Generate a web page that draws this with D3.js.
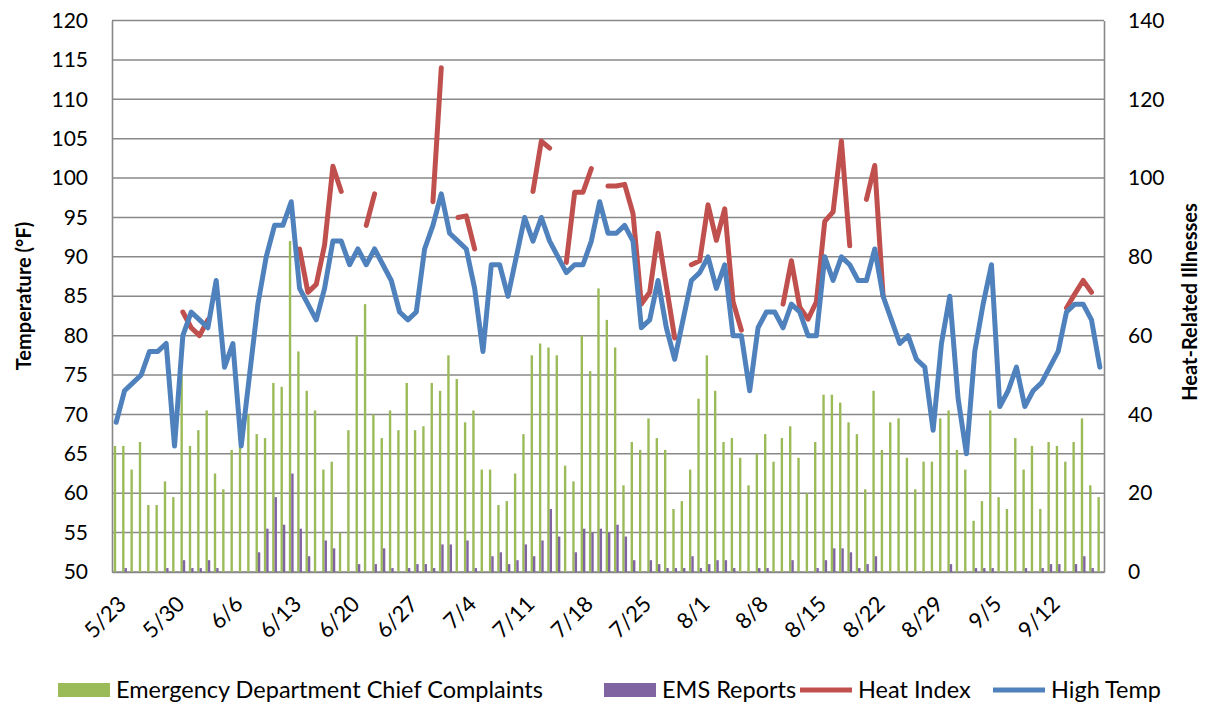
<!DOCTYPE html>
<html>
<head>
<meta charset="utf-8">
<script src="https://cdn.jsdelivr.net/npm/d3@7"></script>
<style>
  body { margin: 0; background: #fff; }
  text { font-family: Lato, "Liberation Sans", Arial, sans-serif; fill: #000; }
</style>
</head>
<body>
<div id="chart"></div>
<script>
// daily data, 5/23 .. 9/18 (119 days)
var startDay = new Date(2011, 4, 23);
var dayCount = 119;

var tickLabels = ["5/23", "5/30", "6/6", "6/13", "6/20", "6/27", "7/4", "7/11", "7/18",
  "7/25", "8/1", "8/8", "8/15", "8/22", "8/29", "9/5", "9/12"];

// Emergency Department Chief Complaints (right axis)
var edComplaints = [32, 32, 26, 33, 17, 17, 23, 19, 50, 32, 36, 41, 25, 21, 31, 32, 40, 35, 34, 48,
  47, 84, 56, 46, 41, 26, 28, 10, 36, 60, 68, 40, 34, 41, 36, 48, 36, 37, 48, 46,
  55, 49, 38, 41, 26, 26, 17, 18, 25, 35, 55, 58, 57, 55, 27, 23, 60, 51, 72, 64,
  57, 22, 33, 31, 39, 34, 31, 16, 18, 26, 44, 55, 46, 33, 34, 29, 22, 30, 35, 28,
  34, 37, 29, 20, 33, 45, 45, 43, 38, 35, 21, 46, 31, 38, 39, 29, 21, 28, 28, 39,
  41, 31, 26, 13, 18, 41, 19, 16, 34, 26, 32, 16, 33, 32, 28, 33, 39, 22, 19];

// EMS Reports (right axis)
var emsReports = [0, 1, 0, 0, 0, 0, 1, 0, 3, 1, 1, 3, 1, 0, 0, 0, 0, 5, 11, 19,
  12, 25, 11, 4, 0, 8, 6, 0, 0, 2, 0, 2, 6, 1, 0, 1, 2, 2, 1, 7,
  7, 0, 8, 1, 0, 4, 5, 2, 3, 7, 4, 8, 16, 9, 0, 5, 11, 10, 11, 10,
  12, 9, 3, 0, 3, 2, 1, 1, 1, 4, 1, 2, 3, 3, 1, 0, 0, 1, 1, 0,
  0, 3, 0, 0, 1, 3, 6, 6, 5, 1, 2, 4, 0, 0, 0, 0, 0, 0, 0, 0,
  2, 0, 0, 1, 1, 1, 0, 0, 0, 1, 0, 1, 2, 2, 0, 2, 4, 1, 0];

// Heat Index (left axis), null where not reported
var heatIndex = [null, null, null, null, null, null, null, null, 83, 81, 80, 82, null, null, null, null, null, null, null, null,
  null, null, 91, 85.5, 86.5, 91.5, 101.5, 98.3, null, null, 94, 98, null, null, null, null, null, null, 97, 114,
  null, 95, 95.2, 91, null, null, null, null, null, null, 98.3, 104.7, 103.8, null, 89.3, 98.2, 98.2, 101.2, null, 99,
  99, 99.2, 95.5, 84, 85.5, 93, 86.3, 79.7, null, 89, 89.5, 96.6, 92.1, 96.1, 84.3, 80.7, null, null, null, null,
  84, 89.5, 83.6, 82.1, 84.3, 94.5, 95.7, 104.7, 91.4, null, 97.3, 101.6, 85, null, null, null, null, null, null, null,
  null, null, null, null, null, null, null, null, null, null, null, null, null, null, 83.5, 85.3, 87, 85.5, null];

// High Temp (left axis)
var highTemp = [69, 73, 74, 75, 78, 78, 79, 66, 80, 83, 82, 81, 87, 76, 79, 66, 75, 84, 90, 94,
  94, 97, 86, 84, 82, 86, 92, 92, 89, 91, 89, 91, 89, 87, 83, 82, 83, 91, 94, 98,
  93, 92, 91, 86, 78, 89, 89, 85, 90, 95, 92, 95, 92, 90, 88, 89, 89, 92, 97, 93,
  93, 94, 92, 81, 82, 87, 81, 77, 82, 87, 88, 90, 86, 89, 80, 80, 73, 81, 83, 83,
  81, 84, 83, 80, 80, 90, 87, 90, 89, 87, 87, 91, 85, 82, 79, 80, 77, 76, 68, 79,
  85, 72, 65, 78, 84, 89, 71, 73, 76, 71, 73, 74, 76, 78, 83, 84, 84, 82, 76];

var legendItems = [
  { name: "Emergency Department Chief Complaints", type: "bar", color: "#9BBB59" },
  { name: "EMS Reports", type: "bar", color: "#8064A2" },
  { name: "Heat Index", type: "line", color: "#C0504D" },
  { name: "High Temp", type: "line", color: "#4F81BD" }
];

var width = 1210, height = 702;
var margin = { top: 20.5, right: 106, bottom: 130, left: 112 };
var plotW = width - margin.left - margin.right;
var plotH = height - margin.top - margin.bottom;

var days = d3.timeDay.range(startDay, d3.timeDay.offset(startDay, dayCount));
var fmt = d3.timeFormat("%-m/%-d");
var idx = d3.range(dayCount);

var svg = d3.select("#chart").append("svg")
  .attr("width", width)
  .attr("height", height);

var g = svg.append("g")
  .attr("transform", "translate(" + margin.left + "," + margin.top + ")");

var x = d3.scaleBand().domain(idx).range([0, plotW]).padding(0);
var sub = d3.scaleBand().domain(["ed", "ems"]).range([0, x.bandwidth()])
  .paddingInner(0).paddingOuter(0.75);
var yLeft = d3.scaleLinear().domain([50, 120]).range([plotH, 0]);
var yRight = d3.scaleLinear().domain([0, 140]).range([plotH, 0]);

//gridlines
g.append("g").selectAll("line")
  .data(d3.range(50, 121, 5))
  .enter().append("line")
  .attr("x1", 0).attr("x2", plotW)
  .attr("y1", d => yLeft(d)).attr("y2", d => yLeft(d))
  .attr("stroke", "#888888")
  .attr("stroke-width", 1.5);

//axes
var leftAxis = g.append("g")
  .call(d3.axisLeft(yLeft).tickValues(d3.range(50, 121, 5)).tickSize(0).tickPadding(24));
var rightAxis = g.append("g")
  .attr("transform", "translate(" + plotW + ",0)")
  .call(d3.axisRight(yRight).tickValues(d3.range(0, 141, 20)).tickSize(0).tickPadding(24));
[leftAxis, rightAxis].forEach(function(a) {
  a.select(".domain").attr("stroke", "#888888").attr("stroke-width", 1.6);
  a.selectAll("text").style("font-size", "21px");
});

var tickIdx = idx.filter(i => tickLabels.indexOf(fmt(days[i])) >= 0);
var bottomAxis = g.append("g")
  .attr("transform", "translate(0," + plotH + ")")
  .call(d3.axisBottom(x).tickValues(tickIdx).tickFormat(i => fmt(days[i])).tickSize(0));
bottomAxis.select(".domain").attr("stroke", "#888888").attr("stroke-width", 1.6);
bottomAxis.selectAll("text")
  .style("font-size", "22px")
  .attr("text-anchor", "end")
  .attr("dy", "0.35em")
  .attr("transform", "translate(6,28) rotate(-45)")
  .attr("y", 0);

//bars
g.append("g").selectAll("rect")
  .data(idx)
  .enter().append("rect")
  .attr("x", i => x(i) + sub("ed"))
  .attr("width", sub.bandwidth())
  .attr("y", i => yRight(edComplaints[i]))
  .attr("height", i => plotH - yRight(edComplaints[i]))
  .attr("fill", "#9BBB59");

g.append("g").selectAll("rect")
  .data(idx)
  .enter().append("rect")
  .attr("x", i => x(i) + sub("ems"))
  .attr("width", sub.bandwidth())
  .attr("y", i => yRight(emsReports[i]))
  .attr("height", i => plotH - yRight(emsReports[i]))
  .attr("fill", "#8064A2");

//lines
var line = d3.line()
  .defined(d => d[1] != null)
  .x(d => x(d[0]) + x.bandwidth() / 2)
  .y(d => yLeft(d[1]));

[[heatIndex, "#C0504D"], [highTemp, "#4F81BD"]].forEach(function(s) {
  g.append("path")
    .datum(idx.map(i => [i, s[0][i]]))
    .attr("d", line)
    .attr("fill", "none")
    .attr("stroke", s[1])
    .attr("stroke-width", 5)
    .attr("stroke-linejoin", "round")
    .attr("stroke-linecap", "round");
});

//axis titles
svg.append("text")
  .attr("transform", "translate(31,296) rotate(-90)")
  .attr("text-anchor", "middle")
  .style("font-size", "20px").style("font-weight", "bold")
  .text("Temperature (°F)");

svg.append("text")
  .attr("transform", "translate(1197,302) rotate(-90)")
  .attr("text-anchor", "middle")
  .style("font-size", "20px").style("font-weight", "bold")
  .text("Heat-Related Illnesses");

//legend
var legendX = [58, 604, 800, 993];
var legend = svg.append("g").attr("transform", "translate(0,690)");
legendItems.forEach(function(d, k) {
  var item = legend.append("g").attr("transform", "translate(" + legendX[k] + ",0)");
  if (d.type === "bar") {
    item.append("rect").attr("x", 0).attr("y", -7).attr("width", 52).attr("height", 14).attr("fill", d.color);
  } else {
    item.append("line").attr("x1", 0).attr("x2", 52).attr("y1", 0).attr("y2", 0)
      .attr("stroke", d.color).attr("stroke-width", 5);
  }
  item.append("text").attr("x", 58).attr("y", 0).attr("dy", "0.35em")
    .style("font-size", "23.5px").text(d.name);
});
</script>
</body>
</html>
